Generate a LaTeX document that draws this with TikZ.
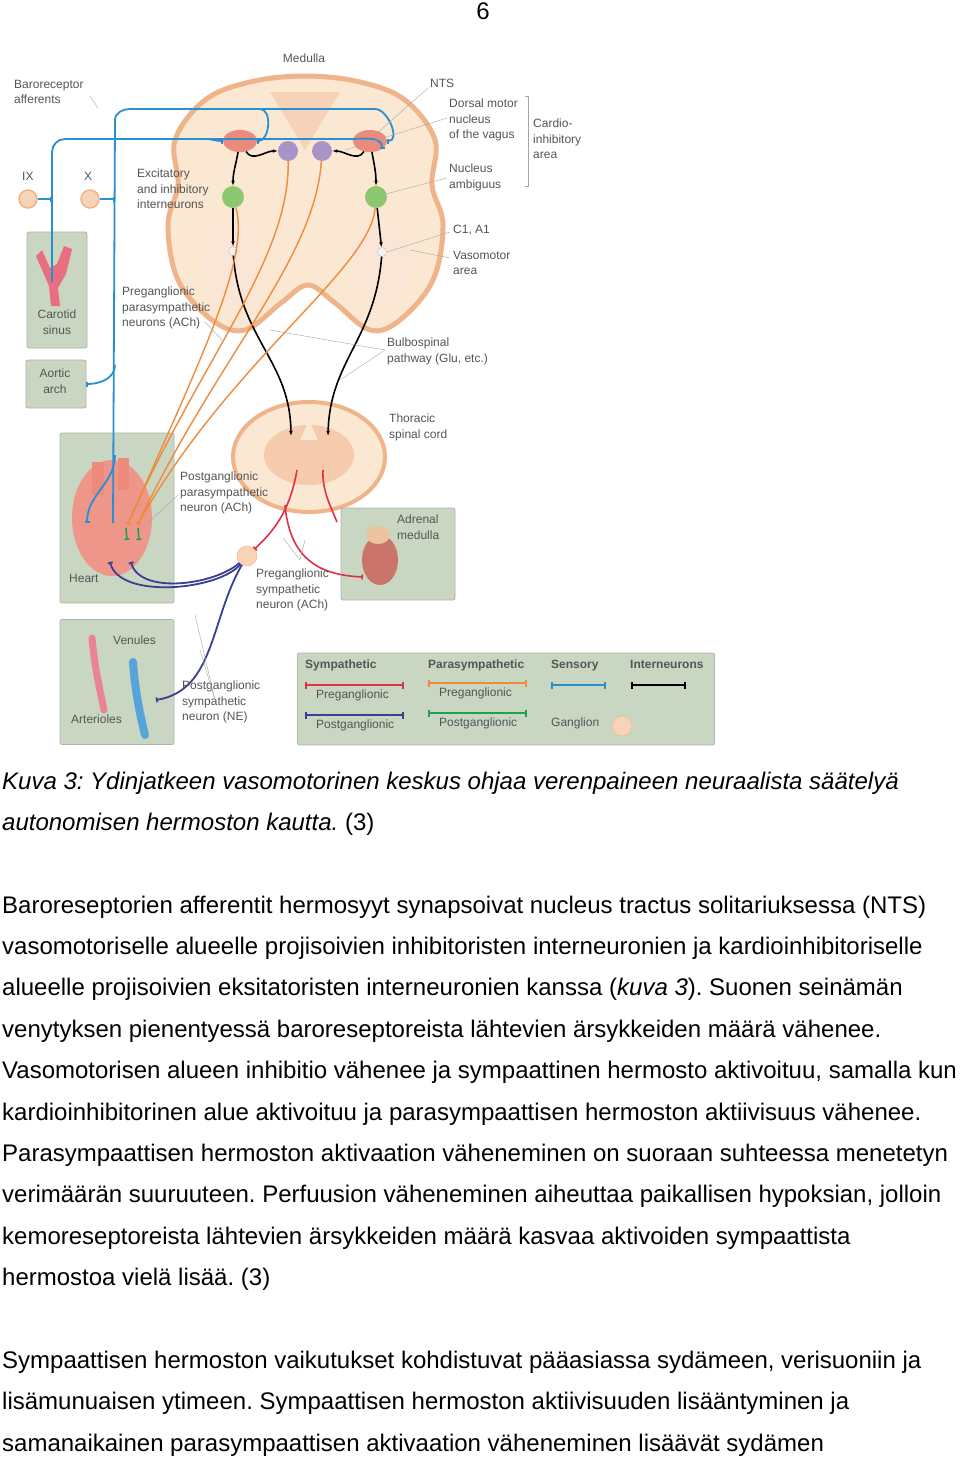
\documentclass[tikz,border=0pt]{standalone}
\usepackage{fontspec}
\setmainfont{Liberation Sans}
\usepackage{tikz}
\usetikzlibrary{arrows.meta,positioning,calc,shapes.geometric}
\frenchspacing
\definecolor{boxgreen}{HTML}{C9D6C1}
\definecolor{medcream}{HTML}{FBE8D2}
\definecolor{medrim}{HTML}{F0B48A}
\definecolor{sensblue}{HTML}{2A8FD0}
\definecolor{symred}{HTML}{E0304A}
\definecolor{symblue}{HTML}{3A3F95}
\definecolor{parorange}{HTML}{F08A3C}
\definecolor{pargreen}{HTML}{20A050}
\definecolor{ntsred}{HTML}{EC8A7C}
\definecolor{purp}{HTML}{A894C8}
\definecolor{nucgreen}{HTML}{8CC870}
\definecolor{gangl}{HTML}{F7D3B8}
\definecolor{labgray}{HTML}{555555}
\newcommand{\FigFont}{\fontsize{12}{15.5}\selectfont}
\newcommand{\BodyFont}{\fontsize{24}{28}\selectfont}
\tikzset{
  organbox/.style={draw=gray!60, fill=boxgreen, rounded corners=2pt, line width=0.8pt},
  lab/.style={font=\FigFont, text=labgray, align=left, inner sep=0pt, anchor=north west},
  sens/.style={sensblue, line width=1.8pt, -{Bar[width=5pt]}},
  inter/.style={black, line width=1.6pt, -{Latex[length=5pt]}},
  parpre/.style={parorange, line width=1.4pt, -{Bar[width=5pt]}},
  parpost/.style={pargreen, line width=1.6pt, -{Bar[width=5pt]}},
  sympre/.style={symred, line width=1.6pt, -{Bar[width=5pt]}},
  sympost/.style={symblue, line width=1.8pt, -{Bar[width=5pt]}},
  pointer/.style={gray!70, line width=0.4pt},
  legline/.style={line width=2pt, {Bar[width=7pt]}-{Bar[width=7pt]}},
  bodyline/.style={font=\BodyFont, anchor=base west, inner sep=0pt},
}
\begin{document}
\begin{tikzpicture}[x=1pt, y=-1pt]
  \useasboundingbox[fill=white] (0,0) rectangle (960,1459);
  \node[font=\BodyFont] (pagenum) at (483,11) {6};
  % --- medulla and spinal cord ---
  \draw[medrim, fill=medcream, line width=5pt] plot[smooth cycle, tension=0.6] coordinates {
    (305,76) (360,82) (405,100) (435,140) (432,185) (443,225) (433,280) (400,320)
    (370,330) (335,303) (308,285) (281,303) (245,330) (212,320) (178,280) (168,225)
    (178,185) (175,140) (205,100) (250,82)};
  \fill[medrim!60] (270,92) -- (340,92) -- (318,128) -- (305,150) -- (292,128) -- cycle;
  \fill[medrim!35] (233,265) ellipse (30 and 40);
  \fill[medrim!35] (382,265) ellipse (30 and 40);
  \draw[medrim, fill=medcream, line width=4pt] (309,457) ellipse (76 and 55);
  \fill[medrim!70] (309,455) ellipse (45 and 30);
  \fill[medcream] (309,420) -- (300,440) -- (318,440) -- cycle;
  % --- nuclei ---
  \node[ellipse, fill=ntsred, minimum width=34pt, minimum height=22pt, inner sep=0pt] (ntsL) at (240,141) {};
  \node[ellipse, fill=ntsred, minimum width=34pt, minimum height=22pt, inner sep=0pt] (ntsR) at (370,141) {};
  \node[circle, fill=purp, minimum size=20pt, inner sep=0pt] (dmvL) at (288,151) {};
  \node[circle, fill=purp, minimum size=20pt, inner sep=0pt] (dmvR) at (322,151) {};
  \node[circle, fill=nucgreen, minimum size=22pt, inner sep=0pt] (ambL) at (233,197) {};
  \node[circle, fill=nucgreen, minimum size=22pt, inner sep=0pt] (ambR) at (376,197) {};
  \node[circle, draw=gray!50, fill=white!90!gray, minimum size=9pt, inner sep=0pt] (cL) at (233,251) {};
  \node[circle, draw=gray!50, fill=white!90!gray, minimum size=9pt, inner sep=0pt] (cR) at (382,252) {};
  \coordinate (cordL) at (291,436);
  \coordinate (cordR) at (328,436);
  \coordinate (cordLo) at (297,470);
  \coordinate (cordRo) at (323,470);
  % --- organ boxes ---
  \node[organbox, minimum width=60pt, minimum height=116pt] (carotid) at (57,290) {};
  \node[organbox, minimum width=60pt, minimum height=48pt] (aortic) at (56,384) {};
  \node[organbox, minimum width=114pt, minimum height=170pt] (heartbox) at (117,518) {};
  \node[organbox, minimum width=114pt, minimum height=125pt] (vesselbox) at (117,682) {};
  \node[organbox, minimum width=114pt, minimum height=92pt] (adrenalbox) at (398,554) {};
  \node[organbox, minimum width=417pt, minimum height=92pt] (legend) at (506,699) {};
  % --- organ drawings ---
  \fill[symred!70] (42,250) -- (50,268) -- (57,264) -- (64,246) -- (72,249) -- (66,274) -- (58,288) -- (60,306) -- (51,306) -- (49,286) -- (36,256) -- cycle;
  \fill[ntsred!90] (112,518) ellipse (40 and 58);
  \fill[ntsred] (92,462) rectangle (104,495);
  \fill[ntsred] (118,458) rectangle (129,490);
  \fill[ntsred!85!black] (380,560) ellipse (18 and 25);
  \fill[gangl!80!brown] (378,535) ellipse (12 and 9);
  \draw[symred!60, line width=7pt, line cap=round] (92,638) .. controls (95,670) and (100,690) .. (104,710);
  \draw[sensblue!80, line width=8pt, line cap=round] (133,662) .. controls (135,690) and (140,715) .. (145,735);
  \node[circle, draw=medrim, fill=gangl, minimum size=18pt, line width=1.5pt] (ixgang) at (28,199) {};
  \node[circle, draw=medrim, fill=gangl, minimum size=18pt, line width=1.5pt] (xgang) at (90,199) {};
  \node[circle, draw=medrim, fill=gangl, minimum size=20pt, inner sep=0pt] (ganglion) at (247,556) {};
  % --- heart targets ---
  \coordinate (hsensA) at (87,523);
  \coordinate (hsensB) at (113,523);
  \coordinate (hparA) at (128,524);
  \coordinate (hparB) at (138,524);
  \coordinate (hsymA) at (110,562);
  \coordinate (hsymB) at (131,562);
  \coordinate (venule) at (156,700);
  \coordinate (adrtip) at (363,577);
  \coordinate (cordend) at (337,522);
  % --- sensory afferents ---
  \draw[sens] (ixgang.east) -- (52,199);
  \draw[sens] (xgang.east) -- (115,199);
  \draw[sens] (52,282) -- (52,152) to[out=90,in=180] (65,139) -- (350,139) to[out=0,in=90] (ntsR.south east);
  \draw[sens] (205,139) to[out=0,in=180] (ntsL.west);
  \draw[sens] (hsensB) -- (115,120) to[out=90,in=180] (130,109) -- (260,109) to[out=0,in=0] (ntsL.east);
  \draw[sens] (260,109) -- (375,109) to[out=0,in=0] (ntsR.east);
  \draw[sens] (115,365) to[out=270,in=0] (aortic.east);
  \draw[sens] (115,455) to[out=270,in=90] (hsensA);
  % --- interneurons ---
  \draw[inter] (ntsL) to[out=260,in=90] (ambL);
  \draw[inter] (ntsL) to[out=300,in=180] (dmvL);
  \draw[inter] (ntsR) to[out=280,in=90] (ambR);
  \draw[inter] (ntsR) to[out=240,in=0] (dmvR);
  \draw[inter] (ambL) -- (cL);
  \draw[inter] (ambR) -- (cR);
  \draw[inter] (cL) .. controls (240,340) and (290,360) .. (cordL);
  \draw[inter] (cR) .. controls (375,340) and (330,360) .. (cordR);
  % --- parasympathetic ---
  \draw[parpre] (dmvL) .. controls (290,260) and (200,360) .. (hparA);
  \draw[parpre] (dmvR) .. controls (315,260) and (215,360) .. (hparB);
  \draw[parpre] (ambL) .. controls (250,260) and (200,360) .. (hparA);
  \draw[parpre] (ambR) .. controls (370,270) and (230,360) .. (hparB);
  \draw[parpost] (126,528) -- (127,540);
  \draw[parpost] (138,528) -- (139,540);
  % --- sympathetic ---
  \draw[sympre] (cordLo) .. controls (290,510) and (275,530) .. (ganglion);
  \draw[sympre] (285,505) .. controls (290,560) and (320,575) .. (adrtip);
  \draw[symred, line width=1.6pt] (cordRo) .. controls (322,490) and (330,505) .. (cordend);
  \draw[sympost] (ganglion) .. controls (220,590) and (120,600) .. (hsymA);
  \draw[sympost] (ganglion) .. controls (215,585) and (140,595) .. (hsymB);
  \draw[sympost] (ganglion) .. controls (210,620) and (215,690) .. (venule);
  % --- labels ---
  \node[lab, anchor=north] (medlab) at (304,54) {Medulla};
  \node[lab] (barolab) at (14,80) {Baroreceptor\\afferents};
  \node[lab] (ntslab) at (430,79) {NTS};
  \node[lab] (dmvlab) at (449,99) {Dorsal motor\\nucleus\\of the vagus};
  \node[lab] (ambilab) at (449,164) {Nucleus\\ambiguus};
  \node[lab] (cardlab) at (533,119) {Cardio-\\inhibitory\\area};
  \node[lab] (c1lab) at (453,225) {C1, A1};
  \node[lab] (vmlab) at (453,251) {Vasomotor\\area};
  \node[lab] (ixlab) at (22,172) {IX};
  \node[lab] (xlab) at (84,172) {X};
  \node[lab] (exclab) at (137,169) {Excitatory\\and inhibitory\\interneurons};
  \node[lab, align=center, anchor=north] (carlab) at (57,310) {Carotid\\sinus};
  \node[lab, align=center, anchor=north] (aorlab) at (55,369) {Aortic\\arch};
  \node[lab] (preparlab) at (122,287) {Preganglionic\\parasympathetic\\neurons (ACh)};
  \node[lab] (bulblab) at (387,338) {Bulbospinal\\pathway (Glu, etc.)};
  \node[lab] (thorlab) at (389,414) {Thoracic\\spinal cord};
  \node[lab] (postparlab) at (180,472) {Postganglionic\\parasympathetic\\neuron (ACh)};
  \node[lab] (adrlab) at (397,515) {Adrenal\\medulla};
  \node[lab] (heartlab) at (69,574) {Heart};
  \node[lab] (presymlab) at (256,569) {Preganglionic\\sympathetic\\neuron (ACh)};
  \node[lab] (venlab) at (113,636) {Venules};
  \node[lab] (artlab) at (71,715) {Arterioles};
  \node[lab] (postsymlab) at (182,681) {Postganglionic\\sympathetic\\neuron (NE)};
  \draw[pointer] (525,96) -- (528,96) -- (528,186) -- (525,186);
  \draw[pointer] (428,88) -- (375,135);
  \draw[pointer] (447,118) -- (345,150);
  \draw[pointer] (447,178) -- (382,195);
  \draw[pointer] (450,232) -- (387,252);
  \draw[pointer] (450,258) -- (410,250);
  \draw[pointer] (385,350) -- (270,330);
  \draw[pointer] (385,350) -- (340,380);
  \draw[pointer] (205,322) -- (222,340);
  \draw[pointer] (178,495) -- (140,530);
  \draw[pointer] (300,560) -- (283,538);
  \draw[pointer] (300,560) -- (305,540);
  \draw[pointer] (215,700) -- (200,650);
  \draw[pointer] (215,700) -- (195,615);
  \draw[pointer] (90,96) -- (98,108);
  % --- legend ---
  \node[lab, font=\FigFont\bfseries] (lsym) at (305,660) {Sympathetic};
  \node[lab, font=\FigFont\bfseries] (lpar) at (428,660) {Parasympathetic};
  \node[lab, font=\FigFont\bfseries] (lsen) at (551,660) {Sensory};
  \node[lab, font=\FigFont\bfseries] (lint) at (630,660) {Interneurons};
  \draw[symred, legline] (305,685) -- (404,685);
  \draw[parorange, legline] (428,683) -- (527,683);
  \draw[sensblue, legline] (551,685) -- (606,685);
  \draw[black, legline] (631,685) -- (686,685);
  \draw[symblue, legline] (305,715) -- (404,715);
  \draw[pargreen, legline] (428,713) -- (527,713);
  \node[lab] (lsympre) at (316,690) {Preganglionic};
  \node[lab] (lparpre) at (439,688) {Preganglionic};
  \node[lab] (lsympost) at (316,720) {Postganglionic};
  \node[lab] (lparpost) at (439,718) {Postganglionic};
  \node[lab] (lgang) at (551,718) {Ganglion};
  \node[circle, draw=medrim, fill=gangl, minimum size=20pt, inner sep=0pt] (lgangc) at (622,726) {};
  % --- caption and body text ---
  \node[bodyline] (cap1) at (2,789) {\itshape Kuva 3: Ydinjatkeen vasomotorinen keskus ohjaa verenpaineen neuraalista säätelyä};
  \node[bodyline] (cap2) at (2,830) {\itshape autonomisen hermoston kautta.\upshape\ (3)};
  \node[bodyline] (p1) at (2,913) {Baroreseptorien afferentit hermosyyt synapsoivat nucleus tractus solitariuksessa (NTS)};
  \node[bodyline] (p2) at (2,954) {vasomotoriselle alueelle projisoivien inhibitoristen interneuronien ja kardioinhibitoriselle};
  \node[bodyline] (p3) at (2,995) {alueelle projisoivien eksitatoristen interneuronien kanssa (\textit{kuva 3}). Suonen seinämän};
  \node[bodyline] (p4) at (2,1037) {venytyksen pienentyessä baroreseptoreista lähtevien ärsykkeiden määrä vähenee.};
  \node[bodyline] (p5) at (2,1078) {Vasomotorisen alueen inhibitio vähenee ja sympaattinen hermosto aktivoituu, samalla kun};
  \node[bodyline] (p6) at (2,1120) {kardioinhibitorinen alue aktivoituu ja parasympaattisen hermoston aktiivisuus vähenee.};
  \node[bodyline] (p7) at (2,1161) {Parasympaattisen hermoston aktivaation väheneminen on suoraan suhteessa menetetyn};
  \node[bodyline] (p8) at (2,1202) {verimäärän suuruuteen. Perfuusion väheneminen aiheuttaa paikallisen hypoksian, jolloin};
  \node[bodyline] (p9) at (2,1244) {kemoreseptoreista lähtevien ärsykkeiden määrä kasvaa aktivoiden sympaattista};
  \node[bodyline] (p10) at (2,1285) {hermostoa vielä lisää. (3)};
  \node[bodyline] (q1) at (2,1368) {Sympaattisen hermoston vaikutukset kohdistuvat pääasiassa sydämeen, verisuoniin ja};
  \node[bodyline] (q2) at (2,1409) {lisämunuaisen ytimeen. Sympaattisen hermoston aktiivisuuden lisääntyminen ja};
  \node[bodyline] (q3) at (2,1451) {samanaikainen parasympaattisen aktivaation väheneminen lisäävät sydämen};
\end{tikzpicture}
\end{document}
